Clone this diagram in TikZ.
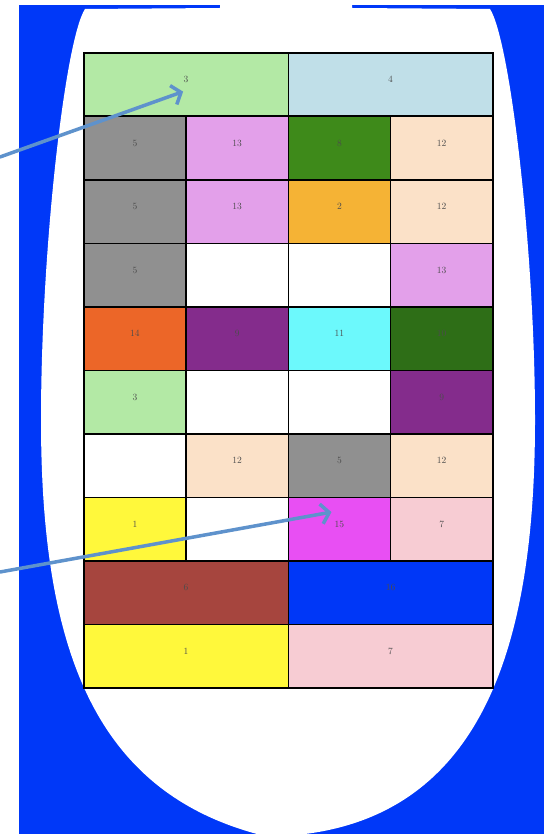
\documentclass[tikz,border=0pt]{standalone}
\usepackage{xcolor}
\usepackage{tikz}
\usetikzlibrary{arrows.meta}
\definecolor{bgblue}{HTML}{0038F8}
\definecolor{arrowblue}{HTML}{5E92CC}
\definecolor{mintgreen}{HTML}{B3E9A5}
\definecolor{paleblue}{HTML}{C0DFE8}
\definecolor{midgrey}{HTML}{909090}
\definecolor{lavender}{HTML}{E3A0EA}
\definecolor{leafgreen}{HTML}{3E8A1A}
\definecolor{peach}{HTML}{FBE1C8}
\definecolor{amber}{HTML}{F5B335}
\definecolor{rust}{HTML}{EC6628}
\definecolor{plum}{HTML}{842C8C}
\definecolor{aqua}{HTML}{6CF9FC}
\definecolor{forest}{HTML}{2E6E17}
\definecolor{lemon}{HTML}{FFF83B}
\definecolor{magenta}{HTML}{E84FF3}
\definecolor{blush}{HTML}{F7CCD3}
\definecolor{brick}{HTML}{A6453E}
\definecolor{royal}{HTML}{0037F7}

\tikzset{
  cell/.style={draw=black, line width=1.7pt, inner sep=0pt, anchor=north west,
               minimum width=102.25pt, minimum height=63.5pt,
               text=black!70, font=\fontsize{9.5}{10}\selectfont,
               text height=7pt, text depth=11pt},
  widecell/.style={cell, minimum width=204.5pt},
  pointer/.style={draw=arrowblue, line width=3.5pt, line cap=round,
                  -{Straight Barb[length=8pt, width=20pt]}}
}

\begin{document}
\begin{tikzpicture}[x=1pt, y=-1pt]
    \useasboundingbox (0,0) rectangle (544,834);
    % backdrop
    \fill[bgblue] (19,5) rectangle (544,834);
    \fill[white] (85,9) .. controls (65,40) and (41,250) .. (41,420)
      .. controls (41,650) and (95,790) .. (257,834)
      -- (305,834) .. controls (495,810) and (535,620) .. (535,420)
      .. controls (535,250) and (510,40) .. (490,9)
      -- (352,8) -- (352,4) -- (220,4) -- (220,8) -- cycle;

    % row 1
    \node[widecell, fill=mintgreen] (c11) at (83,52) {3};
    \node[widecell, fill=paleblue] (c13) at (287.5,52) {4};
    % row 2
    \node[cell, fill=midgrey] (c21) at (83,115.5) {5};
    \node[cell, fill=lavender] (c22) at (185.25,115.5) {13};
    \node[cell, fill=leafgreen] (c23) at (287.5,115.5) {8};
    \node[cell, fill=peach] (c24) at (389.75,115.5) {12};
    % row 3
    \node[cell, fill=midgrey] (c31) at (83,179) {5};
    \node[cell, fill=lavender] (c32) at (185.25,179) {13};
    \node[cell, fill=amber] (c33) at (287.5,179) {2};
    \node[cell, fill=peach] (c34) at (389.75,179) {12};
    % row 4
    \node[cell, fill=midgrey] (c41) at (83,242.5) {5};
    \node[cell, fill=white] (c42) at (185.25,242.5) {};
    \node[cell, fill=white] (c43) at (287.5,242.5) {};
    \node[cell, fill=lavender] (c44) at (389.75,242.5) {13};
    % row 5
    \node[cell, fill=rust] (c51) at (83,306) {14};
    \node[cell, fill=plum] (c52) at (185.25,306) {9};
    \node[cell, fill=aqua] (c53) at (287.5,306) {11};
    \node[cell, fill=forest] (c54) at (389.75,306) {10};
    % row 6
    \node[cell, fill=mintgreen] (c61) at (83,369.5) {3};
    \node[cell, fill=white] (c62) at (185.25,369.5) {};
    \node[cell, fill=white] (c63) at (287.5,369.5) {};
    \node[cell, fill=plum] (c64) at (389.75,369.5) {9};
    % row 7
    \node[cell, fill=white] (c71) at (83,433) {};
    \node[cell, fill=peach] (c72) at (185.25,433) {12};
    \node[cell, fill=midgrey] (c73) at (287.5,433) {5};
    \node[cell, fill=peach] (c74) at (389.75,433) {12};
    % row 8
    \node[cell, fill=lemon] (c81) at (83,496.5) {1};
    \node[cell, fill=white] (c82) at (185.25,496.5) {};
    \node[cell, fill=magenta] (c83) at (287.5,496.5) {15};
    \node[cell, fill=blush] (c84) at (389.75,496.5) {7};
    % rows 9 and 10
    \node[widecell, fill=brick] (c91) at (83,560) {6};
    \node[widecell, fill=royal] (c93) at (287.5,560) {16};
    \node[widecell, fill=lemon] (c101) at (83,623.5) {1};
    \node[widecell, fill=blush] (c103) at (287.5,623.5) {7};

    % pointers
    \coordinate (src1) at (0,157);
    \coordinate (src2) at (0,572);
    \draw[pointer] (src1) -- ([xshift=-3pt, yshift=-7pt]c11.center);
    \draw[pointer] (src2) -- ([xshift=-8pt, yshift=17pt]c83.center);
\end{tikzpicture}
\end{document}
